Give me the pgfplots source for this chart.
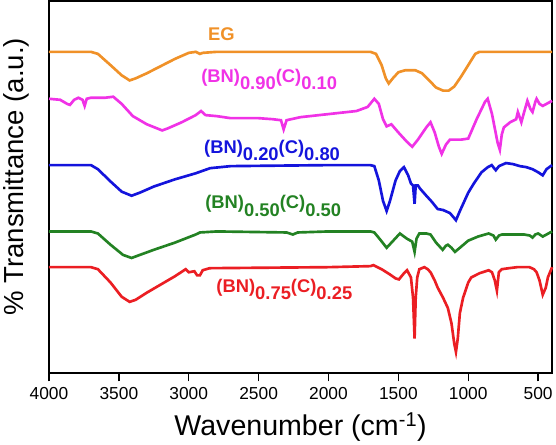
\documentclass[border=0pt]{standalone}
\usepackage{fontspec}
\setmainfont{Liberation Sans}
\usepackage{pgfplots}
\pgfplotsset{compat=1.18}
\definecolor{cEG}{RGB}{240,145,40}
\definecolor{cMag}{RGB}{240,50,230}
\definecolor{cBlue}{RGB}{20,20,220}
\definecolor{cGreen}{RGB}{35,130,35}
\definecolor{cRed}{RGB}{235,30,35}
\newcommand{\lab}[2]{(BN)\raisebox{-7pt}{#1}(C)\raisebox{-7pt}{#2}}
\begin{document}
\begin{tikzpicture}
\begin{axis}[
  scale only axis, width=493pt, height=365pt,
  x dir=reverse, xmin=400, xmax=4000, ymin=-374, ymax=-9,
  xtick={4000,3500,3000,2500,2000,1500,1000,500}, ytick=\empty,
  axis line style={line width=1.6pt},
  xtick pos=bottom,
  tick style={line width=1.4pt, black}, tick align=outside,
  major tick length=8pt,
  xticklabel style={font=\fontsize{17}{17}\selectfont, /pgf/number format/set thousands separator={}, /pgf/number format/assume math mode=true, yshift=-2pt},
  xlabel={Wavenumber (cm\textsuperscript{-1})},
  ylabel={\% Transmittance (a.u.)},
  xlabel style={font=\fontsize{28}{28}\selectfont, yshift=-6pt},
  ylabel style={font=\fontsize{27}{27}\selectfont, yshift=8pt, xshift=10pt},
  clip=false,
]
\addplot[black, line width=1.6pt, forget plot] coordinates {(4000,-9) (400,-9) (400,-374)};
\addplot[cEG, line width=2.6pt] table[y expr=-\thisrow{y}] {
x y
4000 59
3700 59
3650 61
3560 72
3480 82
3423 87
3380 85
3300 80
3200 73
3100 66
3000 60
2950 59
2920 61
2900 60
2800 59
2000 59
1700 59
1660 61
1620 72
1590 85
1569 90
1540 85
1500 79
1450 77
1380 77
1330 80
1280 87
1230 94
1180 97
1140 97
1100 93
1050 83
1000 72
950 61
920 59
400 59
};
\addplot[cMag, line width=2.6pt] table[y expr=-\thisrow{y}] {
x y
4000 105
3920 106
3870 110
3850 111
3820 106
3790 104
3760 106
3745 112
3730 105
3700 104
3600 104
3540 103
3480 110
3400 122
3300 130
3190 136
3150 134
3050 128
2950 121
2912 117
2880 121
2800 122
2700 124
2500 124
2400 125
2340 126
2321 135
2300 126
2200 123
2000 120
1800 117
1720 113
1672 105
1640 110
1610 125
1584 132
1550 130
1500 138
1440 147
1401 152
1360 145
1300 133
1270 128
1240 138
1210 152
1190 159
1160 150
1131 145
1050 145
1000 144
940 125
880 108
861 105
830 120
790 148
774 155
760 140
745 133
700 128
657 125
645 118
620 128
600 118
577 107
555 115
540 118
520 108
511 105
490 110
467 112
440 110
400 107
};
\addplot[cBlue, line width=2.6pt] table[y expr=-\thisrow{y}] {
x y
4000 170
3700 170
3650 174
3560 186
3480 196
3409 200
3350 197
3250 191
3100 184
2950 178
2847 173
2700 171
2000 170
1700 170
1672 171
1640 185
1610 205
1584 215
1560 205
1520 185
1490 176
1460 172
1430 180
1410 188
1395 190
1384 208
1376 190
1360 190
1345 193
1300 200
1260 206
1219 213
1180 214
1131 217
1100 222
1088 224
1060 215
1030 206
1000 197
960 188
905 177
860 172
832 170
815 173
803 175
780 171
730 168
680 169
630 171
584 172
540 174
500 177
467 180
440 174
400 170
};
\addplot[cGreen, line width=2.6pt] table[y expr=-\thisrow{y}] {
x y
4000 235
3700 235
3650 237
3560 248
3470 258
3409 261
3350 258
3250 253
3100 246
2950 238
2920 236
2800 235
2300 236
2255 238
2220 236
2000 235
1700 235
1672 236
1630 243
1584 251
1550 246
1489 237
1440 242
1401 245
1384 255
1370 242
1350 237
1300 237
1270 238
1230 246
1183 253
1160 249
1146 248
1120 251
1095 255
1060 251
1000 244
930 240
854 237
820 239
803 243
780 239
759 238
650 238
600 238
560 239
540 241
520 238
500 237
467 240
440 238
400 235
};
\addplot[cRed, line width=2.6pt] table[y expr=-\thisrow{y}] {
x y
4000 270
3700 270
3650 272
3560 285
3480 299
3423 304
3380 302
3300 295
3200 287
3100 279
3022 272
3000 275
2960 274
2940 278
2920 278
2900 273
2850 271
2000 270
1700 269
1679 268
1620 272
1562 277
1520 281
1496 282
1460 276
1438 273
1410 280
1395 300
1384 340
1376 300
1365 280
1350 272
1314 270
1290 272
1270 275
1240 283
1219 290
1180 300
1146 310
1120 325
1100 345
1088 353
1075 340
1060 315
1037 300
1000 285
978 280
920 276
854 273
830 275
810 283
795 293
781 275
760 272
708 271
650 270
600 270
562 270
530 272
511 275
490 283
467 297
445 290
430 280
400 270
};
\begin{scope}[font=\fontsize{18}{18}\selectfont\bfseries]
\node[cEG, anchor=center] at (axis cs:2766,-42) {EG};
\node[cMag, anchor=west, inner sep=0pt] at (axis cs:2912,-86) {\lab{0.90}{0.10}};
\node[cBlue, anchor=west, inner sep=0pt] at (axis cs:2891,-156) {\lab{0.20}{0.80}};
\node[cGreen, anchor=west, inner sep=0pt] at (axis cs:2883,-210) {\lab{0.50}{0.50}};
\node[cRed, anchor=west, inner sep=0pt] at (axis cs:2803,-292) {\lab{0.75}{0.25}};
\end{scope}
\end{axis}
\end{tikzpicture}
\end{document}
